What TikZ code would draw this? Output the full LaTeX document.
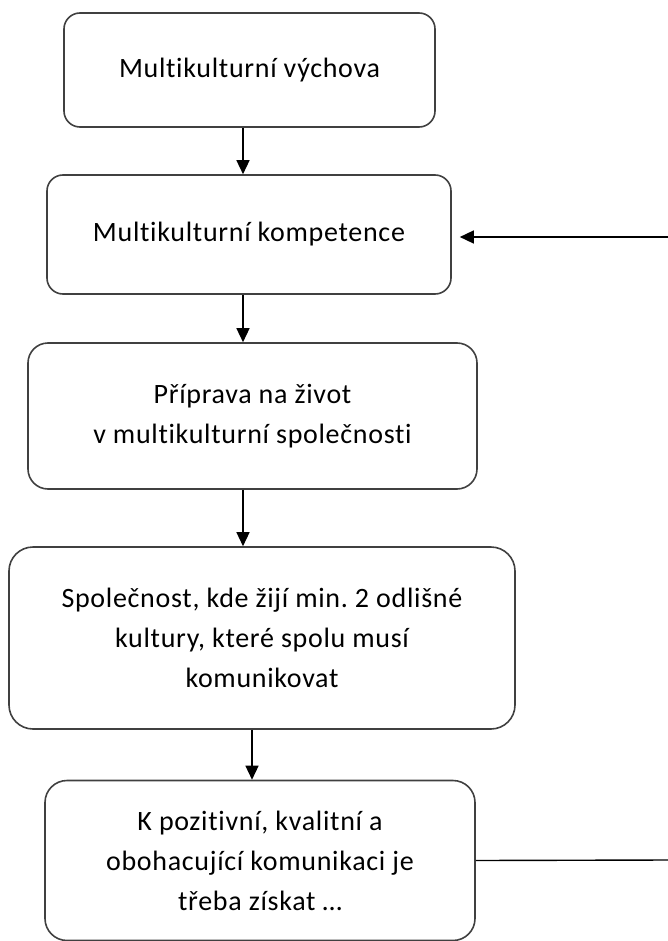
\documentclass[tikz,border=0pt]{standalone}
\usepackage{fontspec}
\setmainfont[LetterSpace=2.5,Ligatures={NoCommon}]{Carlito}
\usetikzlibrary{arrows.meta}
\frenchspacing

\begin{document}
\begin{tikzpicture}
  [x=0.5pt,y=-0.5pt,
   stage/.style={draw=black!75,line width=0.8pt,rounded corners=8pt,align=center,
     inner sep=0pt,font=\fontsize{14pt}{20pt}\selectfont},
   flow/.style={draw=black,line width=0.7pt,-{Triangle[width=6.5pt,length=7pt]}}]
  \useasboundingbox (0,0) rectangle (668,941);

  \node[stage,minimum width=185.5pt,minimum height=57pt] (b1) at (249.5,70) {Multikulturní výchova};
  \node[stage,minimum width=202pt,minimum height=59.5pt] (b2) at (249,234.5) {Multikulturní kompetence};
  \node[stage,minimum width=224.5pt,minimum height=73pt,rounded corners=10pt] (b3) at (252.5,416) {Příprava na život\\v multikulturní společnosti};
  \node[stage,minimum width=253pt,minimum height=91pt,rounded corners=12pt] (b4) at (262,638) {Společnost, kde žijí min. 2 odlišné\\kultury, které spolu musí\\komunikovat};
  \node[stage,minimum width=215pt,minimum height=80pt,rounded corners=11pt] (b5) at (260,860.5) {K pozitivní, kvalitní a\\obohacující komunikaci je\\třeba získat \dots};

  \coordinate (loopin) at (668,237);
  \coordinate (loopout) at (668,860);

  \foreach \from/\to/\ax in {b1/b2/243,b2/b3/243,b3/b4/243,b4/b5/252}
    \draw[flow] (\from.south -| \ax,0) -- (\to.north -| \ax,0);

  \draw[flow,shorten >=4pt] (loopin) -- (b2.east |- loopin);
  \draw[black,line width=0.7pt] (b5.east) -- (loopout);
\end{tikzpicture}
\end{document}
